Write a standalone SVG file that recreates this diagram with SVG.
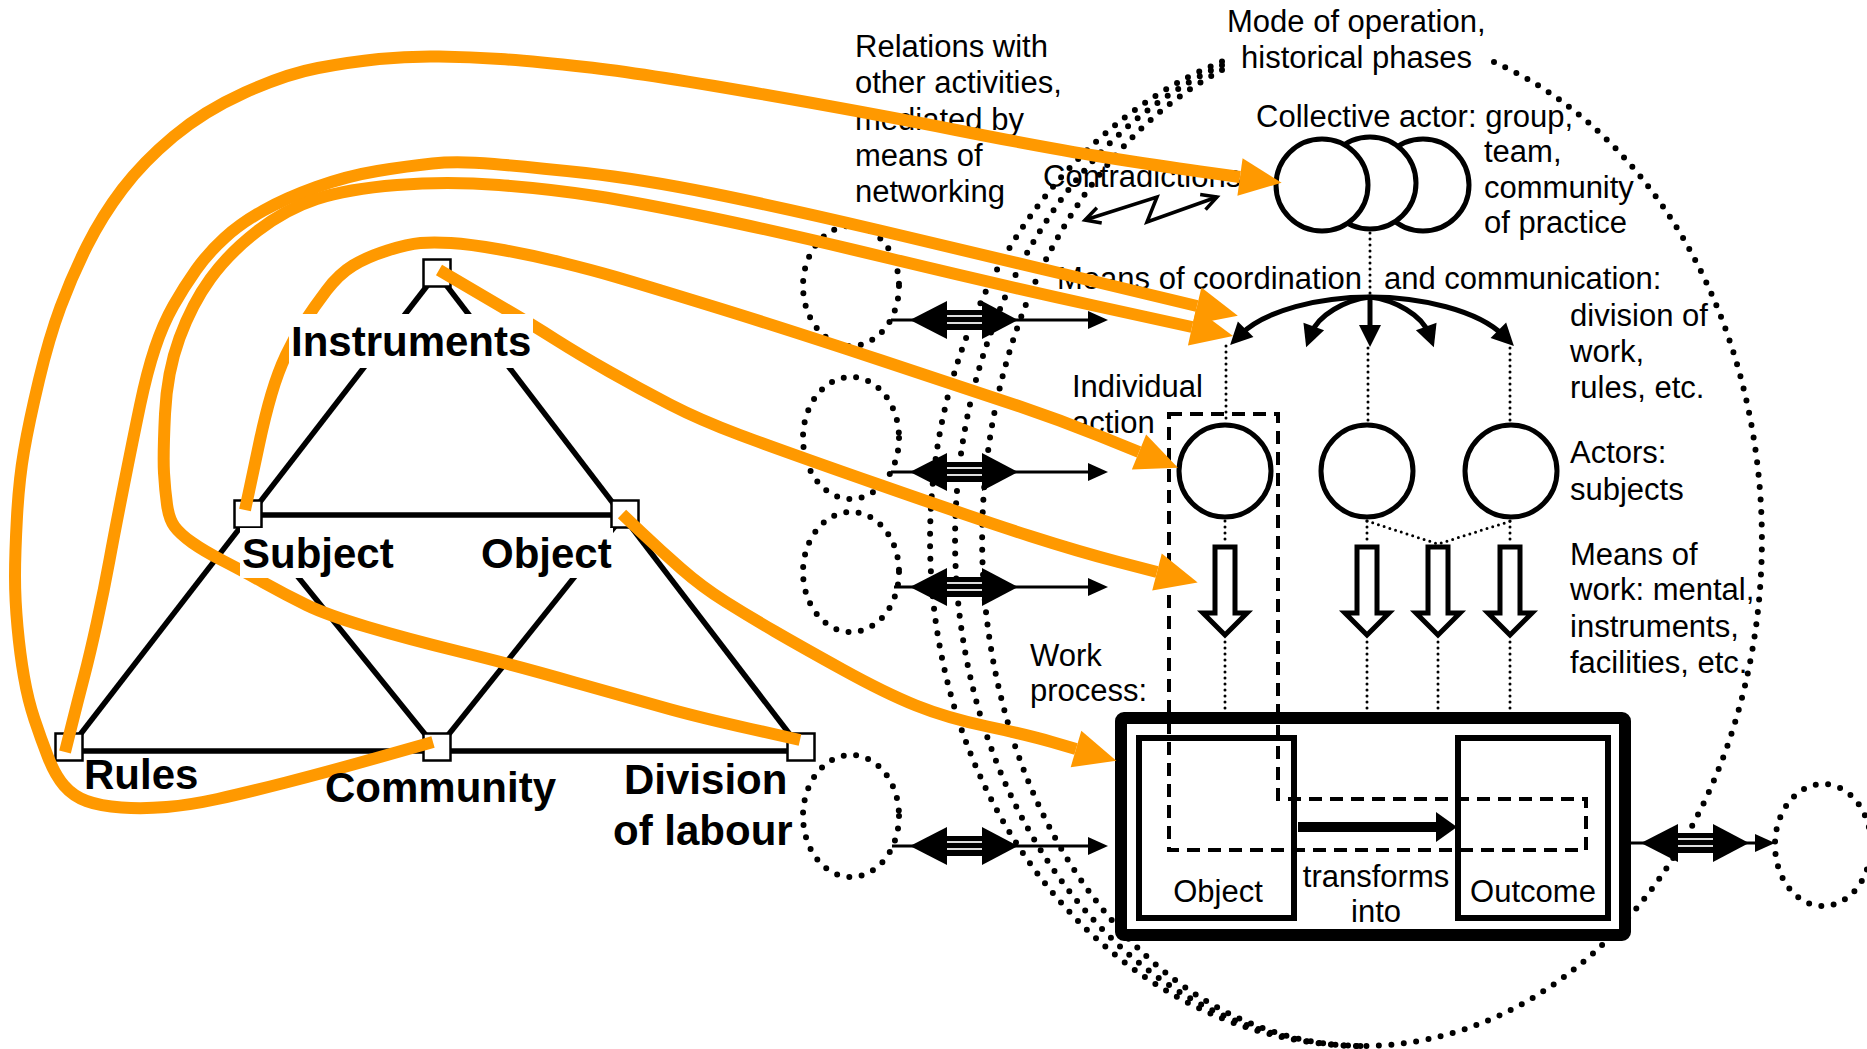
<svg xmlns="http://www.w3.org/2000/svg" width="1867" height="1049" viewBox="0 0 1867 1049">
<defs>
<style>
.t{font-family:"Liberation Sans",Arial,sans-serif;font-size:31px;fill:#000}
.b{font-family:"Liberation Sans",Arial,sans-serif;font-size:42px;font-weight:bold;fill:#000}
.tri{stroke:#000;stroke-width:5.5;fill:none}
.node{fill:#fff;stroke:#000;stroke-width:2.5}
.bigdot{fill:none;stroke:#000;stroke-width:6;stroke-linecap:round;stroke-dasharray:0 12.5}
.smdot{fill:none;stroke:#000;stroke-width:3;stroke-linecap:round;stroke-dasharray:0 6}
.or{fill:none;stroke:#FF9900;stroke-width:12;stroke-linejoin:round;marker-end:url(#oh)}
.circ{fill:#fff;stroke:#000;stroke-width:5}
.hollow{fill:#fff;stroke:#000;stroke-width:5;stroke-linejoin:miter}
.arc{fill:none;stroke:#000;stroke-width:5;marker-end:url(#ah)}
.thin{fill:none;stroke:#000;stroke-width:3;marker-end:url(#sh)}
.lbl{fill:#fff;stroke:none}
</style>
<marker id="oh" markerUnits="userSpaceOnUse" orient="auto" refX="0" refY="0" markerWidth="50" markerHeight="50" overflow="visible">
<path d="M0,-19 L42,0 L0,19 Z" fill="#FF9900"/>
</marker>
<marker id="ah" markerUnits="userSpaceOnUse" orient="auto" refX="8" refY="0" markerWidth="30" markerHeight="30" overflow="visible">
<path d="M0,-11 L22,0 L0,11 Z" fill="#000"/>
</marker>
<marker id="sh" markerUnits="userSpaceOnUse" orient="auto" refX="1" refY="0" markerWidth="30" markerHeight="30" overflow="visible">
<path d="M0,-9 L20,0 L0,9 Z" fill="#000"/>
</marker>
<marker id="ov" markerUnits="userSpaceOnUse" orient="auto-start-reverse" refX="0" refY="0" markerWidth="30" markerHeight="30" overflow="visible">
<path d="M-15,-8 L0,0 L-15,8" fill="none" stroke="#000" stroke-width="3.5"/>
</marker>
<g id="dbl">
<polygon points="0,0 37,-19 37,19" fill="#000"/>
<rect x="36" y="-10" width="38" height="20" fill="#000"/>
<line x1="37" y1="-4" x2="72" y2="-4" stroke="#ddd" stroke-width="2"/>
<line x1="37" y1="3" x2="72" y2="3" stroke="#ddd" stroke-width="2"/>
<polygon points="72,-19 108,0 72,19" fill="#000"/>
</g>
</defs>
<rect width="1867" height="1049" fill="#fff"/>

<!-- activity boundary (dotted) -->
<g id="activity-boundary">
<path class="bigdot" d="M1494,62.1 A399,506 0 0 1 1363,1046"/>
<path class="bigdot" d="M1222,61.6 A433,506 0 0 0 1363,1046"/>
<path class="bigdot" d="M1222,65.2 A408,506 0 0 0 1363,1046"/>
<path class="bigdot" d="M1222,70 A381,506 0 0 0 1363,1046"/>
</g>

<!-- other activities -->
<g id="other-activity-1"><ellipse class="bigdot" cx="851" cy="286" rx="48" ry="60"/></g>
<g id="other-activity-2"><ellipse class="bigdot" cx="851" cy="438" rx="48" ry="61"/></g>
<g id="other-activity-3"><ellipse class="bigdot" cx="851" cy="572" rx="48" ry="60"/></g>
<g id="other-activity-4"><ellipse class="bigdot" cx="851" cy="816" rx="48" ry="61"/></g>
<g id="other-activity-5"><ellipse class="bigdot" cx="1823" cy="845" rx="48" ry="61"/></g>

<!-- activity triangle -->
<g id="triangle">
<line class="tri" x1="69" y1="749" x2="437" y2="273"/>
<line class="tri" x1="801" y1="749" x2="437" y2="273"/>
<line class="tri" x1="69" y1="751" x2="801" y2="751"/>
<line class="tri" x1="248" y1="515" x2="624" y2="515"/>
<line class="tri" x1="248" y1="515" x2="437" y2="749"/>
<line class="tri" x1="624" y1="515" x2="437" y2="749"/>
</g>
<g id="node-instruments"><rect class="node" x="423.5" y="259.5" width="27" height="27"/></g>
<g id="node-subject"><rect class="node" x="234.5" y="500.5" width="27" height="27"/></g>
<g id="node-object"><rect class="node" x="611.5" y="500.5" width="27" height="27"/></g>
<g id="node-rules"><rect class="node" x="55.5" y="733.5" width="27" height="27"/></g>
<g id="node-community"><rect class="node" x="423.5" y="733.5" width="27" height="27"/></g>
<g id="node-division"><rect class="node" x="787.5" y="733.5" width="27" height="27"/></g>

<!-- collective actor -->
<g id="collective-actor">
<circle class="circ" cx="1423" cy="185" r="46"/>
<circle class="circ" cx="1370" cy="183" r="46"/>
<circle class="circ" cx="1322" cy="185" r="46"/>
</g>

<!-- actors -->
<g id="actor-1"><circle class="circ" cx="1225" cy="471" r="46"/></g>
<g id="actor-2"><circle class="circ" cx="1367" cy="471" r="46"/></g>
<g id="actor-3"><circle class="circ" cx="1511" cy="471" r="46"/></g>

<!-- means of work -->
<g id="means-1"><polygon class="hollow" points="1215,547 1235,547 1235,613 1247,613 1225,635 1203,613 1215,613"/></g>
<g id="means-2"><polygon class="hollow" points="1357,547 1377,547 1377,613 1389,613 1367,635 1345,613 1357,613"/></g>
<g id="means-3"><polygon class="hollow" points="1428,547 1448,547 1448,613 1460,613 1438,635 1416,613 1428,613"/></g>
<g id="means-4"><polygon class="hollow" points="1500,547 1520,547 1520,613 1532,613 1510,635 1488,613 1500,613"/></g>

<!-- work process -->
<g id="work-process">
<rect x="1121" y="718" width="504" height="217" rx="3" fill="#fff" stroke="#000" stroke-width="12"/>
</g>
<g id="object-box"><rect x="1139" y="738" width="155" height="180" fill="none" stroke="#000" stroke-width="6"/></g>
<g id="outcome-box"><rect x="1458" y="738" width="150" height="180" fill="none" stroke="#000" stroke-width="6"/></g>
<g id="individual-action">
<path d="M1169,414 L1278,414 L1278,799 L1586,799 L1586,850 L1169,850 Z" fill="none" stroke="#000" stroke-width="4" stroke-dasharray="13 8"/>
</g>

<!-- black connectors -->
<g id="connectors">
<line class="smdot" x1="1370" y1="233" x2="1370" y2="296"/>
<path class="arc" d="M1370,297 C1320,297 1265,310 1240,335"/>
<path class="arc" d="M1370,297 C1345,300 1318,315 1311,334"/>
<path class="arc" d="M1370,297 L1370,333"/>
<path class="arc" d="M1370,297 C1395,300 1422,315 1429,334"/>
<path class="arc" d="M1370,297 C1420,297 1478,310 1504,336"/>
<line class="smdot" x1="1226" y1="346" x2="1226" y2="423"/>
<line class="smdot" x1="1368" y1="348" x2="1368" y2="423"/>
<line class="smdot" x1="1510" y1="348" x2="1510" y2="423"/>
<line class="smdot" x1="1225" y1="521" x2="1225" y2="544"/>
<line class="smdot" x1="1367" y1="521" x2="1367" y2="544"/>
<line class="smdot" x1="1510" y1="521" x2="1510" y2="544"/>
<polyline class="smdot" points="1367,521 1438,544 1511,521"/>
<line class="smdot" x1="1225" y1="642" x2="1225" y2="711"/>
<line class="smdot" x1="1367" y1="642" x2="1367" y2="711"/>
<line class="smdot" x1="1438" y1="642" x2="1438" y2="711"/>
<line class="smdot" x1="1510" y1="642" x2="1510" y2="711"/>
<line x1="1298" y1="827" x2="1438" y2="827" stroke="#000" stroke-width="10"/>
<polygon points="1436,812 1457,827 1436,842" fill="#000"/>
<path d="M1085,220 L1157,197 L1147,222 L1217,197" fill="none" stroke="#000" stroke-width="3.5" stroke-linejoin="miter" marker-start="url(#ov)" marker-end="url(#ov)"/>
<line class="thin" x1="891" y1="320" x2="1089" y2="320"/>
<use href="#dbl" x="910" y="320"/>
<line class="thin" x1="891" y1="472" x2="1089" y2="472"/>
<use href="#dbl" x="910" y="472"/>
<line class="thin" x1="894" y1="587" x2="1089" y2="587"/>
<use href="#dbl" x="910" y="587"/>
<line class="thin" x1="892" y1="846" x2="1089" y2="846"/>
<use href="#dbl" x="910" y="846"/>
<line class="thin" x1="1631" y1="843" x2="1756" y2="843"/>
<use href="#dbl" x="1641" y="843"/>
</g>

<!-- texts -->
<g id="texts">
<text class="t" x="855" y="57">Relations with</text>
<text class="t" x="855" y="93">other activities,</text>
<text class="t" x="855" y="130">mediated by</text>
<text class="t" x="855" y="166">means of</text>
<text class="t" x="855" y="202">networking</text>
<text class="t" x="1227" y="32">Mode of operation,</text>
<text class="t" x="1241" y="68">historical phases</text>
<text class="t" x="1256" y="127">Collective actor: group,</text>
<text class="t" x="1484" y="162">team,</text>
<text class="t" x="1484" y="198">community</text>
<text class="t" x="1484" y="233">of practice</text>
<text class="t" x="1043" y="187">Contradictions</text>
<text class="t" x="1057" y="289">Means of coordination</text>
<text class="t" x="1384" y="289">and communication:</text>
<text class="t" x="1570" y="326">division of</text>
<text class="t" x="1570" y="362">work,</text>
<text class="t" x="1570" y="398">rules, etc.</text>
<text class="t" x="1072" y="397">Individual</text>
<text class="t" x="1072" y="433">action</text>
<text class="t" x="1570" y="463">Actors:</text>
<text class="t" x="1570" y="500">subjects</text>
<text class="t" x="1570" y="565">Means of</text>
<text class="t" x="1570" y="600">work: mental,</text>
<text class="t" x="1570" y="637">instruments,</text>
<text class="t" x="1570" y="673">facilities, etc.</text>
<text class="t" x="1030" y="666">Work</text>
<text class="t" x="1030" y="701">process:</text>
<text class="t" x="1218" y="902" text-anchor="middle">Object</text>
<text class="t" x="1376" y="887" text-anchor="middle">transforms</text>
<text class="t" x="1376" y="922" text-anchor="middle">into</text>
<text class="t" x="1533" y="902" text-anchor="middle">Outcome</text>
</g>

<!-- orange mapping connectors -->
<g id="mapping-connectors">
<path class="or" d="M433,742 L380,757 Q327,772 286,782.5 Q245,793 217.5,799 Q190,805 166.5,807 Q143,809 121.5,807.5 Q100,806 86.5,801 Q73,796 64,785.5 Q55,775 48,757 Q41,739 34.5,719.5 Q28,700 24,677 Q20,654 17.5,627 Q15,600 15,576.5 Q15,553 17,516.5 Q19,480 24,451 Q29,422 39,380 Q49,338 60.5,307 Q72,276 87,246 Q102,216 122.5,189 Q143,162 173.5,136.5 Q204,111 245,92.5 Q286,74 318,68 Q350,62 379,59 Q408,56 439,56.5 Q470,57 500.5,59 Q531,61 585.5,67 Q640,73 752.5,92.5 Q865,112 956,130 Q1047,148 1103.5,157 Q1160,166 1200,171.5 L1240,177"/>
<path class="or" d="M65,752 L71.5,726 Q78,700 84,677 Q90,654 97,622 Q104,590 109.5,560 Q115,530 124,484.5 Q133,439 140,405.5 Q147,372 155,348 Q163,324 173.5,305.5 Q184,287 196,270 Q208,253 224.5,238 Q241,223 263.5,210.5 Q286,198 316.5,187 Q347,176 377.5,171 Q408,166 432.5,163.5 Q457,161 494,164 Q531,167 585.5,173 Q640,179 710,193 Q780,207 880,230.5 Q980,254 1088.5,280 L1197,306"/>
<path class="or" d="M800,740 L751,729 Q702,718 671,709.5 Q640,701 575,682.5 Q510,664 459,651.5 Q408,639 367.5,627 Q327,615 306.5,605 Q286,595 263.5,582.5 Q241,570 222.5,560.5 Q204,551 192,542.5 Q180,534 174.5,526.5 Q169,519 167,504.5 Q165,490 164,473 Q163,456 165,414 Q167,372 179.5,338 Q192,304 210.5,278.5 Q229,253 257.5,231 Q286,209 316.5,199 Q347,189 397,185 Q447,181 499,185 Q551,189 595.5,196 Q640,203 710,217.5 Q780,232 890,258.5 Q1000,285 1096,306 L1192,327"/>
<path class="or" d="M245,510 L249,491.5 Q253,473 259,444.5 Q265,416 271.5,394 Q278,372 286,355 Q294,338 304,322.5 Q314,307 326.5,290.5 Q339,274 353,265.5 Q367,257 387.5,250.5 Q408,244 420.5,243 Q433,242 451,243 Q469,244 500,249.5 Q531,255 561.5,262.5 Q592,270 616,277 Q640,284 710,305.5 Q780,327 880,360 Q980,393 1020,406.5 Q1060,420 1099.5,436 L1139,452"/>
<path class="or" d="M439,270 L464.5,285 Q490,300 510.5,312 Q531,324 555.5,339.5 Q580,355 610,372 Q640,389 670,404.5 Q700,420 740,435 Q780,450 880,485 Q980,520 1030,536 Q1080,552 1118.5,562 L1157,572"/>
<path class="or" d="M622,514 L641,532 Q660,550 681,568.5 Q702,587 726,602 Q750,617 775,631.5 Q800,646 842.5,669.5 Q885,693 916,705.5 Q947,718 987.5,726.5 Q1028,735 1052,742 L1076,749"/>
</g>

<!-- triangle labels -->
<g id="label-instruments"><rect class="lbl" x="289" y="314" width="244" height="54"/><text class="b" x="291" y="356">Instruments</text></g>
<g id="label-subject"><rect class="lbl" x="240" y="528" width="157" height="50"/><text class="b" x="242" y="568">Subject</text></g>
<g id="label-object"><rect class="lbl" x="478" y="528" width="135" height="50"/><text class="b" x="481" y="568">Object</text></g>
<g id="label-rules"><text class="b" x="84" y="789">Rules</text></g>
<g id="label-community"><text class="b" x="325" y="802">Community</text></g>
<g id="label-division"><text class="b" x="624" y="794">Division</text><text class="b" x="613" y="845">of labour</text></g>
</svg>
